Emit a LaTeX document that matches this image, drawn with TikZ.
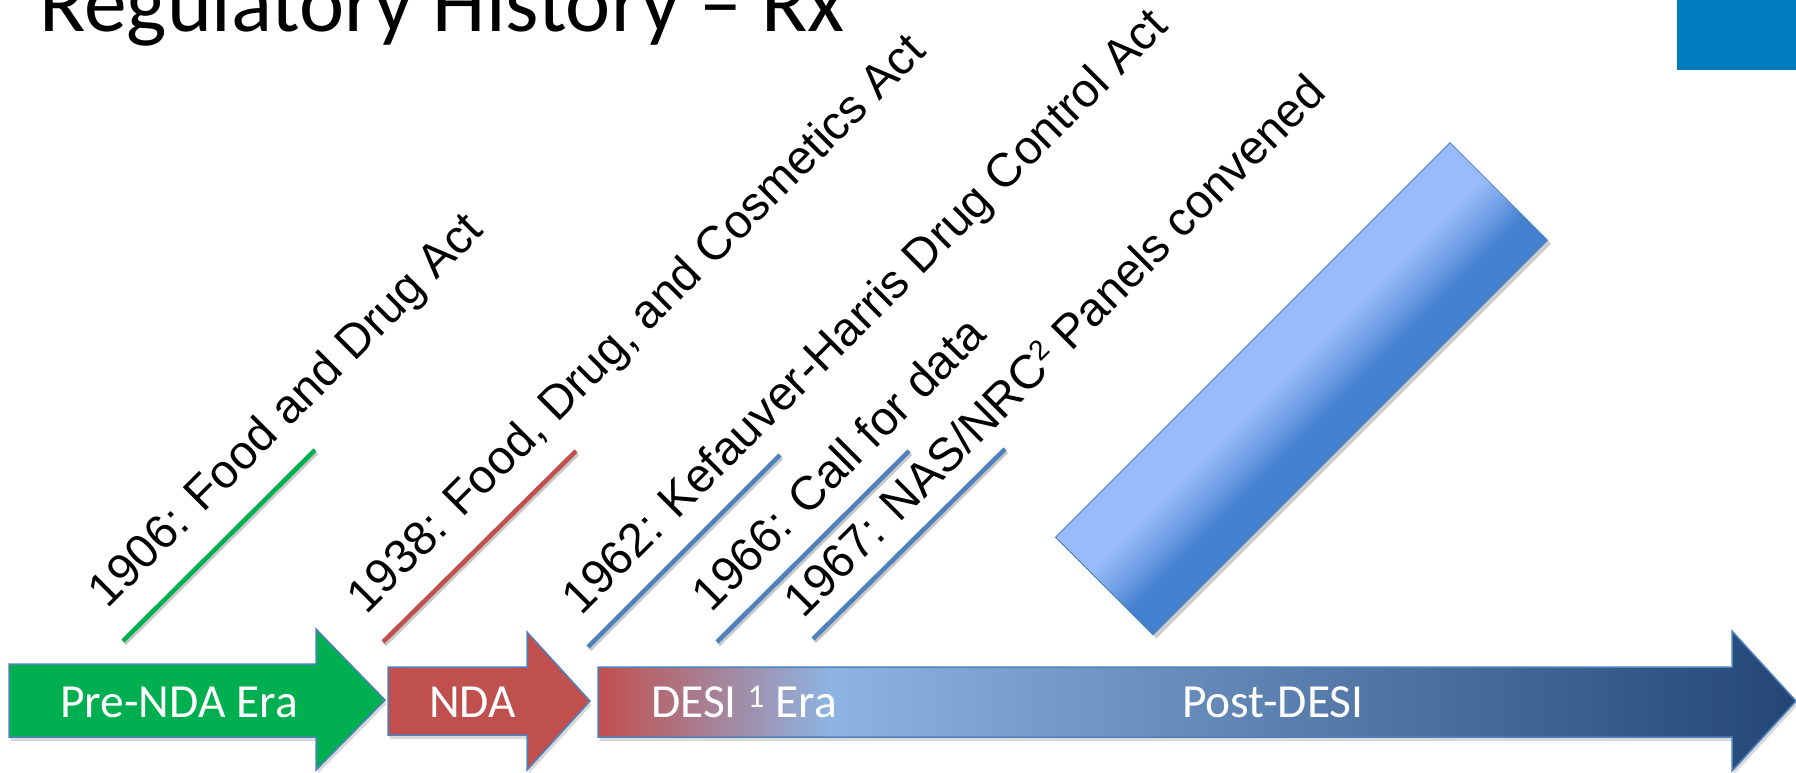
\documentclass[tikz,border=0pt]{standalone}
\usepackage{fontspec}
\setmainfont{Carlito}
\newfontfamily\arialfont{Liberation Sans}
\usetikzlibrary{shadows}
\definecolor{titleblue}{HTML}{007BBD}
\definecolor{ogreen}{HTML}{00B050}
\definecolor{ored}{HTML}{C0504D}
\definecolor{oblue}{HTML}{4F81BD}
\definecolor{lightblue}{HTML}{8DB4E2}
\definecolor{darkblue}{HTML}{234677}
\definecolor{barlight}{HTML}{97BCF9}
\definecolor{barmid}{HTML}{6E9DE4}
\definecolor{bardark}{HTML}{4381CE}
\pgfdeclarehorizontalshading{desishade}{100bp}{color(0bp)=(ored); color(25bp)=(ored); color(34.7bp)=(lightblue); color(75bp)=(darkblue); color(100bp)=(darkblue)}
\pgfdeclareverticalshading{barshade}{100bp}{color(0bp)=(bardark); color(25bp)=(bardark); color(37bp)=(bardark); color(46bp)=(barmid); color(57bp)=(barlight); color(75bp)=(barlight); color(100bp)=(barlight)}
\tikzset{
  evline/.style={line width=4.5pt, preaction={draw=black, opacity=0.22, line width=4.5pt, transform canvas={shift={(1.5pt,-2.5pt)}}}},
  lab/.style={font=\arialfont\fontsize{47.4}{47.4}\selectfont, rotate=45, anchor=base west, inner sep=0pt},
  arrowshape/.style={draw=oblue, line width=1.5pt, drop shadow={shadow xshift=1.5pt, shadow yshift=-4pt, opacity=0.3}},
  arrowtext/.style={text=white, font=\fontsize{47.5}{47.5}\selectfont, inner sep=0pt, anchor=base west},
}
\newcommand{\supsmall}[1]{\raisebox{14pt}{\fontsize{28}{28}\selectfont #1}}
\begin{document}
\begin{tikzpicture}[x=1pt,y=-1pt]
\useasboundingbox (0,0) rectangle (1796,773);
\clip (0,0) rectangle (1796,773);
% title and corner block
\node[anchor=base west, inner sep=0pt, font=\fontsize{85.5}{85.5}\selectfont] (title) at (39,32) {Regulatory History \textendash\ Rx};
\fill[titleblue] (1677,0) rectangle (1796,70);
% rotated bar
\begin{scope}[transform canvas={shift={(1301.5,388.75)}, rotate=45}]
  \fill[black, opacity=0.2] (-279,-65) rectangle (279,74);
  \shadedraw[shading=barshade, draw=oblue, line width=0.8pt] (-279,-69) rectangle (279,69);
\end{scope}
% event lines
\coordinate (g1) at (123,641); \coordinate (g2) at (315,450);
\coordinate (r1) at (383,642); \coordinate (r2) at (576,451);
\coordinate (b1) at (588,647); \coordinate (b2) at (780,455);
\coordinate (c1) at (717,642); \coordinate (c2) at (909,451);
\coordinate (d1) at (813,639); \coordinate (d2) at (1005,449);
\draw[evline, ogreen] (g1) -- (g2);
\draw[evline, ored] (r1) -- (r2);
\draw[evline, oblue] (b1) -- (b2);
\draw[evline, oblue] (c1) -- (c2);
\draw[evline, oblue] (d1) -- (d2);
% labels
\node[lab] (l1906) at (107.5,610) {1906: Food and Drug Act};
\node[lab] (l1938) at (366,615.2) {1938: Food, Drug, and Cosmetics Act};
\node[lab] (l1962) at (581.5,616.5) {1962: Kefauver-Harris Drug Control Act};
\node[lab] (l1966) at (711.3,613.5) {1966: Call for data};
\node[lab] (l1967) at (803.5,620) {1967: NAS/NRC\supsmall{2} Panels convened};
% era arrows
\filldraw[arrowshape, fill=ogreen] (9,664) -- (316,664) -- (316,629) -- (385,700) -- (316,770) -- (316,737) -- (9,737) -- cycle;
\filldraw[arrowshape, fill=ored] (388,667) -- (527,667) -- (527,632) -- (590,701) -- (527,770) -- (527,735) -- (388,735) -- cycle;
\shadedraw[arrowshape, shading=desishade] (598,667) -- (1732,667) -- (1732,631) -- (1796,701) -- (1732,771) -- (1732,737) -- (598,737) -- cycle;
\node[arrowtext] (pre) at (60,717) {Pre-NDA Era};
\node[arrowtext] (nda) at (429,717) {NDA};
\node[arrowtext] (desi) at (651,717) {DESI \textsuperscript{1} Era};
\node[arrowtext] (post) at (1182,717) {Post-DESI};
\end{tikzpicture}
\end{document}
